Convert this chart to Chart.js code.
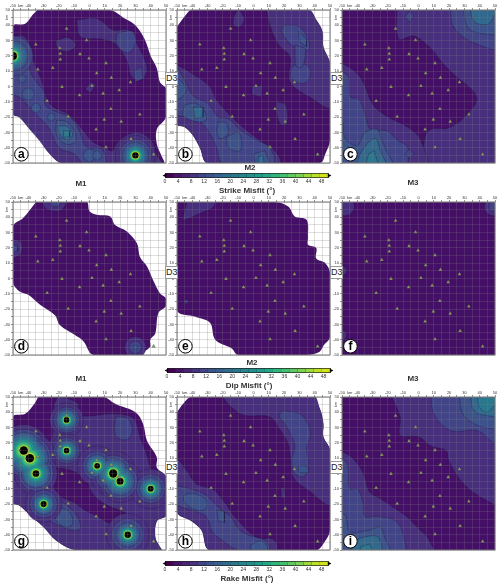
<!DOCTYPE html>
<html>
<head>
<meta charset="utf-8">
<title>Misfit panels</title>
<script src="https://cdn.jsdelivr.net/npm/chart.js@4/dist/chart.umd.min.js"></script>
<style>
  html, body { margin: 0; padding: 0; background: #fff; }
  #page { position: relative; width: 500px; height: 586px; overflow: hidden; font-family: "Liberation Sans", Arial, sans-serif; }
  canvas { position: absolute; }
  .model { position: absolute; font-weight: bold; font-size: 8px; color: #333; transform: translate(-50%, -50%); }
  .d3 { position: absolute; width: 11px; height: 11px; line-height: 11px; box-sizing: content-box; border: 1px solid #999; background: #fff; text-align: center; font-size: 9px; color: #222; z-index: 5; }
</style>
</head>
<body>
<div id="page"></div>
<script>
// Estaciones (km), iguales en todos los paneles
const stationX = [-15, -1.9, -35.1, -19.4, -19.1, -6.2, -19.1, -0.3, 10.8, -24, -33.8, 4.7, 14.3, 26.8, -18, 1.6, 19.4, 8.9, -6.5, -27.7, 14, 32.9, -13.9, 9.7, 20.7, 4.3, 27.2, 10.8, 41.9];
const stationY = [37.8, 30.3, 27.5, 25, 21.4, 21.2, 17.7, 18.3, 15.3, 12.2, 11.1, 8.7, 5.7, 2.8, -0.2, 0.4, -2.4, -4.6, -5.7, -9.4, -14.6, -18.3, -19.7, -21.6, -22.9, -28, -34.3, -39.7, -44.4];

// Colorbar
const colorbarTicksMax = 48;
const colorbarStops = [0, 2.5, 5, 7.5, 10, 12.5, 15, 17.5, 20, 22.5, 25, 27.5, 30, 32.5, 35, 37.5, 40, 42.5, 45, 47.5, 50.3];
const colorbarColors = ['#440154', '#471365', '#482475', '#463480', '#414487', '#3b528b', '#355f8d', '#2f6c8e', '#2a788e', '#25848e', '#21908d', '#1e9c89', '#22a884', '#2fb47c', '#44bf70', '#5ec962', '#7ad151', '#9bd93c', '#bddf26', '#d2e21b'];
const colorbarTitles = ['Strike Misfit (°)', 'Dip Misfit (°)', 'Rake Misfit (°)'];

// Relleno por nivel de contorno, el último es el negro de los máximos
const levelColors = ['#440f66', '#472f7d', '#414487', '#3b528b', '#31688e', '#2a788e', '#21918c', '#35b779', '#6ece58', '#dce319', '#000000'];

// Cuadrado completo, para los paneles M3
const fullSquare = [-50, 50, 50, 50, 50, -50, -50, -50];

// Panel a: strike M1
const aRegion = [-34, 50, 13, 50, 23, 44.5, 30, 40, 36, 31, 40, 20, 44, 12, 46, 3, 50, -1.5, 50, -20, 44, -28, 44, -37.5, 47.4, -46, 48.5, -50, -18, -50, -26, -44, -32.5, -35, -39, -28, -45.6, -20, -50, -18, -50, 39.5, -42, 41, -37, 47];
const aLayers = [
  [1, [-50, 33, -43, 33, -38, 25, -36, 15, -33, 8, -30, 0, -28, -8, -24, -13, -14, -18, -8, -24, -3, -30, 2, -36, 10, -40, 15, -42, 18, -37, 24, -32, 32, -30, 38, -33, 42, -38, 44, -45, 47, -50, -18, -50, -26, -44, -33, -35, -39, -28, -46, -20, -50, -18]],
  [1, [-8.4, 43.4, 4.7, 44.5, 15.6, 37, 25.5, 37, 31, 28, 37.5, 13, 35, 5, 27.7, 6, 24.4, 17, 16.7, 28, 7, 31, -6, 32.5]],
  [1, [-22, 30, -14, 32, -9, 27, -14, 23, -21, 25]],
  [1, [-3, -2, 1, 3, 4, 1, 1, -4]],
  [2, [18, 35, 28, 36, 30, 28, 25, 22, 18, 27]],
  [2, [29, 10, 34, 13, 35, 5, 30, 3]],
  [2, [-50, 30, -44, 28, -40, 18, -39, 10, -34, 2, -30, -3, -29, -12, -23, -16, -13, -20, -7, -28, -4, -37, -1, -40, 8, -41, 10, -50, -4, -50, -10, -44, -20, -40, -26, -28, -33, -20, -39, -14, -44, -8, -50, -4]],
  [3, [-21.6, -22, -15, -23, -9.5, -30, -9.5, -36.5, -16, -37.5, -21.6, -31]],
  [4, [-21, -26, -15, -26, -11, -31, -14, -35, -19, -32]],
  [5, [-17, -29, -13, -29, -13, -33, -17, -33]]
];
const aSpotX = [-50, 30, -40, -35, -25, 0, 5, -44];
const aSpotY = [20, -45, -5, -14, -20, -45, -45, 5];
const aSpotR = [
  [0, 13, 10, 8, 6.3, 5, 4, 3.3, 2.9, 2.6],
  [13, 10.5, 8.5, 6.5, 5.4, 4.3, 3.4, 2.8, 2.4, 2.1],
  [0, 0, 4],
  [0, 0, 3],
  [0, 0, 2.5],
  [0, 0, 4],
  [0, 0, 3],
  [0, 0, 2.5]
];

// Panel b: strike M2
const bRegion = [-50, 39, -44, 47, -40.6, 50, 36, 50, 41, 43.5, 45, 36, 45.6, 26, 49, 18, 50, 15, 50, -35, 47, -44, 43.5, -50, -30, -50, -35, -40, -39.5, -32, -45, -26.5, -50, -24.5];
const bLayers = [
  [1, [-50, 14, -41.7, 9.5, -28.6, 0, -24, -9, -10, -24, 4, -35, 14, -42, 17, -50, -30, -50, -35, -40, -39.5, -32, -45, -26.5, -50, -24.5]],
  [1, [8.5, 50, 10.7, 40, 16, 28, 24, 19, 23, 6, 26, 0, 37, -7, 50, -13.5, 50, 15, 45.6, 26, 45, 36, 41, 43.5, 36, 50]],
  [1, [-13, 45, -10, 50, -6, 44, -9, 39, -13, 40]],
  [1, [15, -10, 21, -12, 22, -24, 18, -25, 15, -17]],
  [1, [-1, 0, 6, 1, 5, -7, -1, -5]],
  [2, [19.5, 40, 30, 39, 36, 30, 36, 24, 30, 25, 25, 27, 20.5, 32, 18.5, 36]],
  [2, [25, 13, 30, 15, 36, 13, 37, 7, 33, 2, 25, 5]],
  [2, [27, 27, 31, 26, 34, 24, 32, 13, 28, 13]],
  [3, [29.3, 36, 34.7, 31, 34.7, 26, 30.3, 29]],
  [2, [-50, 13, -45, 4, -39.5, -6, -30, -11, -23, -20, -16.6, -21, -9, -28, 2, -35, 10.7, -40, 13, -50, -20, -50, -25, -37.5, -33, -24.5, -41.7, -20, -50, -18]],
  [3, [-50, 6, -46, 2, -44, -3, -48, -8, -50, -8]],
  [3, [-45, -12, -38, -11, -32, -16, -31, -22, -37, -23, -46, -19]],
  [3, [-23, -23, -18, -24, -16.6, -31, -22, -34, -24, -29]],
  [3, [-17.7, -33, -10, -30, -8, -35, -9, -42, -16.6, -40]],
  [3, [0, -44, 7.5, -42, 10.7, -50, 1, -50]],
  [4, [-39.5, -13.5, -33, -13.5, -33, -20, -38.5, -21]],
  [4, [3, -46, 6, -45, 7, -50, 3, -50]]
];
const bSpotX = [];
const bSpotY = [];
const bSpotR = [];

// Panel c: strike M3
const cRegion = fullSquare;
const cLayers = [
  [1, [-14, 55, -13, 31, -3, 33, 8, 25, 16, 15, 22, 9, 38, -7, 30, -20, 20, -27, 8, -28, 4, -34, 5, -55, 55, -55, 55, 55]],
  [1, [-55, 15, -50, 15, -40, 8.4, -34.7, -0.3, -30.3, -11.3, -21.6, -19, -7, -26.6, 1.4, -35, 4.7, -55, -55, -55]],
  [2, [21, 55, 22, 41, 29, 32.5, 40, 27, 50, 24, 55, 24, 55, 55]],
  [2, [-55, 9.5, -50, 9.5, -45.6, 6, -44.5, -7, -39, -8, -34.7, -19, -31.4, -28, -20.5, -29, -14, -35, -7, -40, -10.5, -55, -55, -55]],
  [2, [-9, 46, -6, 49, -3, 46, -6, 42]],
  [2, [-9, -44, -6, -41, -3, -44, -6, -47]],
  [3, [29, 55, 31, 41, 35.4, 36, 50, 33.6, 55, 33, 55, 55]],
  [3, [-55, -22, -50, -22, -48, -34, -40, -38.6, -35, -30, -27, -28, -24, -35, -21, -42, -16, -55, -55, -55]],
  [4, [34, 55, 35, 44.5, 38.6, 41, 46, 41, 50, 47, 55, 55]],
  [4, [-41, -55, -39, -46, -33.6, -37.5, -28, -34, -25, -42, -20.5, -55]],
  [5, [-36, -55, -32.5, -44, -29, -42, -25, -55]]
];
const cSpotX = [];
const cSpotY = [];
const cSpotR = [];

// Panel d: dip M1
const dRegion = [-35, 50, -2, 50, 0, 44, 4.7, 41.7, 13.5, 40.6, 16.7, 35, 24.4, 30.8, 31, 23, 33, 14, 37.5, 8, 42, -2, 46, -9.6, 50, -13, 50, -18, 45, -22.7, 43, -36, 39.7, -40, 39.7, -44.6, 35, -48, 31, -50, 2.5, -50, -4, -41, -9.5, -37, -19.4, -30.4, -22.6, -24, -32.5, -17, -40, -10.7, -45.6, -8.5, -50, -2.4, -50, 34, -43.4, 39.5];
const dLayers = [
  [1, [-31, 52, -29, 46, -23, 44, -18, 45, -15, 52]],
  [2, [-27, 52, -24, 47, -20, 47, -18, 52]],
  [1, [-52, 26, -45, 24, -44, 19, -46, 15, -52, 13.5]],
  [2, [-52, 23, -47, 21, -47, 18, -52, 17]]
];
const dSpotX = [30];
const dSpotY = [-45];
const dSpotR = [[7, 4, 1.5]];

// Panel e: dip M2
const eRegion = [-50, 50, 14, 50, 22.7, 47, 27, 40.6, 34.7, 38.4, 35.7, 27, 35.7, 22, 41, 20, 41, 13, 47, 10, 50, 3.5, 50, -38, 46, -43.5, 43, -48, 34.7, -50, -10, -50, -14.4, -45.6, -25, -40, -28.4, -29, -38, -25, -50, -20.6];
const eLayers = [
  [1, [-43, 52, -46, 38.5, -43, 39, -34, 43, -26.5, 46.5, -25.4, 52]]
];
const eSpotX = [-44];
const eSpotY = [-15];
const eSpotR = [[1.5]];

// Panel f: dip M3
const fRegion = fullSquare;
const fLayers = [];
const fSpotX = [-48, 49, -50, -50];
const fSpotY = [47, 47, 5, -37];
const fSpotR = [[6], [6, 3], [3], [3]];

// Panel g: rake M1
const gRegion = [-33.6, 50, 9, 50, 16.7, 45.6, 30, 40, 35, 32.5, 37.5, 21.6, 44, 10.7, 44, 4, 50, -2.4, 50, -27.5, 44, -31, 43, -42, 46, -48, 47, -50, -8.4, -50, -21.5, -44, -30, -35, -40, -26, -45.6, -21, -50, -19, -50, 37, -42, 39, -36, 45.6];
const gLayers = [
  [1, [-50, 28, -42, 28, -33, 22, -25, 22, -24, 40, -20, 50, -8, 46, -6, 38, 15.6, 39, 28.8, 36, 33, 24, 37.5, 12, 42, -1, 50, -5, 50, -27.5, 44, -31, 43, -42, 46, -48, 47, -50, -8.4, -50, -21.5, -44, -30, -35, -40, -26, -45.6, -21, -50, -19]],
  [0, [-22, 4, -12, 2, -3, -3, 2, -13, 10, -20, 22, -25, 28, -30, 15, -33, 5, -28, -3, -24, -10, -19, -20, -14, -24, -5]],
  [2, [-37, -13, -28, -12, -16, -20, -8, -28, -6, -36, -12, -37, -22, -33, -32, -28, -38, -22]],
  [3, [-20, -22, -13, -25, -11, -33, -16, -35, -22, -30]],
  [2, [17, 37, 25, 36, 28, 28, 24, 22, 17, 25]]
];
const gSpotX = [-15, -15, -43, -39, -35, -30, 5, 15.5, 20, 40, 25];
const gSpotY = [35, 15, 15, 10, 0, -20, 5, 0, -5, -10, -40];
const gSpotR = [
  [11, 8.5, 7, 5.5, 4.3, 3.4, 2.8, 2.4, 2.1, 1.9],
  [11, 8.5, 7, 5.5, 4.3, 3.4, 2.8, 2.4, 2.1, 1.9],
  [17, 14, 12, 10, 8.5, 7, 5.4, 4, 3.2, 2.8],
  [17, 14, 12, 10, 8.5, 7, 5.4, 4, 3.2, 2.8],
  [14, 11.5, 9.5, 8, 6.5, 5, 3.8, 3, 2.5, 2.2],
  [12, 9, 7, 5.6, 4.5, 3.6, 3, 2.5, 2.2, 2],
  [13, 9.5, 7.5, 6, 4.8, 3.8, 3, 2.5, 2.2, 1.9],
  [15, 12, 10, 8, 6.6, 5.2, 4.2, 3.4, 3, 2.7],
  [14, 11.5, 9.5, 7.5, 6, 4.8, 3.8, 3, 2.6, 2.3],
  [13, 9.5, 7.5, 6, 4.8, 3.8, 3, 2.5, 2.2, 2],
  [14, 10.5, 8, 6.2, 5, 4, 3.2, 2.6, 2.3, 2.1]
];

// Panel h: rake M2
const hRegion = [-50, 40, -46, 45.6, -40.6, 50, 38, 50, 43.4, 42, 45.6, 32.5, 45.6, 24, 49, 18, 50, 15, 50, -37, 45.6, -46, 41, -50, -28.6, -50, -34, -37, -40.6, -31, -50, -25];
const hLayers = [
  [1, [-22, 52, -14, 43, -6, 38, 10.7, 37, 17, 29, 22.7, 19.4, 24, 10.7, 26, -2.4, 36, -11, 50, -20, 50, 15, 45.6, 24, 45.6, 32.5, 43.4, 42, 38, 52]],
  [1, [-50, 10.7, -43, 1, -37.3, -6.8, -26.4, -10.4, -18.8, -19, -12, -28.6, 2, -41.7, 13, -43, 15, -50, -28.6, -50, -34, -37, -40.6, -31, -50, -25]],
  [1, [18, -9, 20, -9, 21, -16, 18, -16]],
  [2, [18.3, 41, 30.3, 39, 36, 31.4, 37, 24, 34.7, 17, 36, 5, 33, -2, 27, 0, 25, 8.5, 27, 18.4, 20.5, 32.5, 17, 37]],
  [2, [-50, -8, -38, -11, -30, -15, -22, -23, -15, -28, -10, -36, -4, -40, 8, -44, 10, -50, -10, -50, -20, -44, -27, -38, -31, -28, -40, -24, -50, -20]],
  [3, [29, 5, 35, 5, 36, 0.5, 30, 0.5]],
  [3, [-38, -13, -31, -17, -31, -23, -37, -24, -45, -19, -45, -14]],
  [3, [-24, -24, -19, -25, -19, -32, -23, -31]],
  [3, [-2, -47, 4, -44, 8, -46, 9, -50, -1, -50]]
];
const hSpotX = [];
const hSpotY = [];
const hSpotR = [];

// Panel i: rake M3
const iRegion = fullSquare;
const iLayers = [
  [1, [-20, 55, -12, 37, -12, 25, 0, 24, 8, 18, 18, 15, 20, 8, 28, -5, 40, -15, 55, -20, 55, 55]],
  [1, [-55, 14, -50, 14, -43, 10, -36, 0, -32, -12, -24, -17, -18, -21, -8, -28, 0, -36, 6, -42, 10, -55, -55, -55]],
  [2, [8, 55, 10, 39, 21, 28, 38.6, 28, 50, 19.4, 55, 19, 55, 55]],
  [2, [-55, 10, -50, 10, -46, 5, -45, -10, -40, -10, -36, -20, -35, -28, -27, -28, -15, -31, -10, -40, -10, -55, -55, -55]],
  [3, [26.5, 55, 29, 39, 38.6, 31.4, 50, 29, 55, 29, 55, 55]],
  [3, [-55, -27, -48, -27, -45, -38, -32, -37, -25, -35, -22, -42, -18, -55, -55, -55]],
  [4, [34, 55, 36.4, 41, 50, 37, 55, 37, 55, 55]],
  [4, [-44, -55, -42, -45, -33, -41, -26, -42, -25, -55]],
  [5, [38.6, 55, 39.7, 43.5, 45, 40, 50, 44.5, 55, 45, 55, 55]],
  [5, [-38, -55, -38, -48, -32, -46, -28, -55]]
];
const iSpotX = [];
const iSpotY = [];
const iSpotR = [];

const panelLetters = ['a', 'b', 'c', 'd', 'e', 'f', 'g', 'h', 'i'];
const panelRegions = [aRegion, bRegion, cRegion, dRegion, eRegion, fRegion, gRegion, hRegion, iRegion];
const panelLayers = [aLayers, bLayers, cLayers, dLayers, eLayers, fLayers, gLayers, hLayers, iLayers];
const panelSpotX = [aSpotX, bSpotX, cSpotX, dSpotX, eSpotX, fSpotX, gSpotX, hSpotX, iSpotX];
const panelSpotY = [aSpotY, bSpotY, cSpotY, dSpotY, eSpotY, fSpotY, gSpotY, hSpotY, iSpotY];
const panelSpotR = [aSpotR, bSpotR, cSpotR, dSpotR, eSpotR, fSpotR, gSpotR, hSpotR, iSpotR];

// Layout de la figura (px)
const plotLeft = [13, 177, 342];
const plotTop = [10, 202, 397];
const plotSize = 153;
const pxPerKm = plotSize / 100;
const marginLeft = 13;
const marginTop = 10;
const page = document.getElementById('page');

function toPoints(flat) {
    const pts = [];
    for (let i = 0; i < flat.length; i += 2) {
        pts.push({ x: flat[i], y: flat[i + 1] });
    }
    pts.push(pts[0]); // cerrar el polígono
    return pts;
}

function polygonDataset(flat, level, outlined) {
    return {
        data: toPoints(flat),
        showLine: true,
        fill: 'shape',
        tension: flat.length <= 8 ? 0 : 0.35,
        backgroundColor: levelColors[level],
        borderColor: outlined ? 'rgba(20,10,40,0.55)' : 'rgba(0,0,0,0)',
        borderWidth: outlined ? 0.5 : 0,
        pointRadius: 0
    };
}

function buildDatasets(idx) {
    const out = [polygonDataset(panelRegions[idx], 0, false)];
    panelLayers[idx].forEach(layer => out.push(polygonDataset(layer[1], layer[0], true)));

    // Anillos de los máximos, de nivel bajo a alto
    const radii = panelSpotR[idx];
    for (let lvl = 0; lvl < 10; lvl++) {
        const rings = [];
        radii.forEach((row, s) => {
            if (row[lvl]) {
                rings.push({ x: panelSpotX[idx][s], y: panelSpotY[idx][s], r: row[lvl] * pxPerKm });
            }
        });
        if (rings.length) {
            out.push({
                type: 'bubble',
                data: rings,
                clip: 0,
                backgroundColor: levelColors[lvl + 1],
                borderColor: 'rgba(20,10,40,0.45)',
                borderWidth: lvl < 3 ? 0.5 : 0
            });
        }
    }

    out.push({
        data: stationX.map((x, i) => ({ x: x, y: stationY[i] })),
        showLine: false,
        pointStyle: 'triangle',
        pointRadius: 2.2,
        pointBackgroundColor: '#8f9a68',
        pointBorderColor: 'rgba(40,40,40,0.6)',
        pointBorderWidth: 0.4
    });

    // order menor = se dibuja encima
    out.forEach((ds, i) => { ds.order = out.length - i; });
    return out;
}

function panelDecor(letter) {
    return {
        id: 'panelDecor',
        afterDraw(chart) {
            const { ctx, chartArea: area, scales } = chart;
            ctx.save();
            ctx.strokeStyle = '#777';
            ctx.lineWidth = 1;
            ctx.strokeRect(area.left, area.top, area.width, area.height);

            // km vertical del eje y
            ctx.translate(area.left - 6, scales.y.getPixelForValue(45));
            ctx.rotate(-Math.PI / 2);
            ctx.fillStyle = '#333';
            ctx.font = '4px "Liberation Sans"';
            ctx.textAlign = 'center';
            ctx.textBaseline = 'middle';
            ctx.fillText('km', 0, 0);
            ctx.restore();

            // Letra del panel
            const cx = scales.x.getPixelForValue(-44.5);
            const cy = scales.y.getPixelForValue(-44.3);
            ctx.save();
            ctx.beginPath();
            ctx.arc(cx, cy, 6.8, 0, Math.PI * 2);
            ctx.fillStyle = '#fff';
            ctx.fill();
            ctx.lineWidth = 1;
            ctx.strokeStyle = '#000';
            ctx.stroke();
            ctx.fillStyle = '#000';
            ctx.font = 'bold 12px "Liberation Sans"';
            ctx.textAlign = 'center';
            ctx.textBaseline = 'middle';
            ctx.fillText(letter, cx, cy);
            ctx.restore();
        }
    };
}

function drawPanel(idx) {
    const col = idx % 3;
    const row = Math.floor(idx / 3);
    const canvas = document.createElement('canvas');
    const w = marginLeft + plotSize + 5;
    const h = marginTop + plotSize + 4;
    canvas.width = w;
    canvas.height = h;
    canvas.style.left = (plotLeft[col] - marginLeft) + 'px';
    canvas.style.top = (plotTop[row] - marginTop) + 'px';
    page.appendChild(canvas);

    const gridOpts = { color: 'rgba(125,125,125,0.36)', lineWidth: 0.7, z: 1, tickLength: 2, tickColor: '#666' };
    const tickFont = { family: '"Liberation Sans"', size: 4 };

    new Chart(canvas, {
        type: 'scatter',
        data: { datasets: buildDatasets(idx) },
        options: {
            responsive: false,
            animation: false,
            events: [],
            layout: { autoPadding: false, padding: { left: 0, top: 0, right: 5, bottom: 4 } },
            plugins: { legend: { display: false }, tooltip: { enabled: false } },
            scales: {
                x: {
                    position: 'top',
                    min: -50,
                    max: 50,
                    grid: gridOpts,
                    border: { display: false },
                    afterFit(s) { s.height = marginTop; s.paddingLeft = 0; s.paddingRight = 0; },
                    ticks: {
                        stepSize: 5,
                        autoSkip: false,
                        maxRotation: 0,
                        padding: 0,
                        color: '#333',
                        font: tickFont,
                        callback: v => (v === -45 ? 'km' : (v % 10 === 0 ? v : ''))
                    }
                },
                y: {
                    min: -50,
                    max: 50,
                    grid: gridOpts,
                    border: { display: false },
                    afterFit(s) { s.width = marginLeft; s.paddingTop = 0; s.paddingBottom = 0; },
                    ticks: {
                        stepSize: 5,
                        autoSkip: false,
                        padding: 1,
                        color: '#333',
                        font: tickFont,
                        callback: v => (v % 10 === 0 ? v : '')
                    }
                }
            }
        },
        plugins: [panelDecor(panelLetters[idx])]
    });
}

function drawColorbar(title, left, top) {
    const canvas = document.createElement('canvas');
    canvas.width = 192;
    canvas.height = 24;
    canvas.style.left = left + 'px';
    canvas.style.top = top + 'px';
    page.appendChild(canvas);

    const datasets = colorbarColors.map((c, i) => ({
        data: [{ x: colorbarStops[i], y: 0.5 }, { x: colorbarStops[i + 1], y: 0.5 }],
        showLine: true,
        borderColor: c,
        borderWidth: 3.6,
        pointRadius: 0,
        borderCapStyle: 'butt'
    }));
    datasets.push({
        data: [{ x: colorbarStops[0], y: 0.5 }, { x: colorbarStops[colorbarStops.length - 1], y: 0.5 }],
        showLine: true,
        borderColor: '#222',
        borderWidth: 5,
        pointRadius: 0,
        borderCapStyle: 'butt'
    });
    datasets.unshift({
        data: [{ x: colorbarStops[0], y: 0.5 }],
        showLine: false,
        pointStyle: 'triangle',
        rotation: -90,
        pointRadius: 2.4,
        pointBackgroundColor: '#000',
        pointBorderWidth: 0,
        clip: false
    }, {
        data: [{ x: colorbarStops[colorbarStops.length - 1], y: 0.5 }],
        showLine: false,
        pointStyle: 'triangle',
        rotation: 90,
        pointRadius: 2.4,
        pointBackgroundColor: '#000',
        pointBorderWidth: 0,
        clip: false
    });

    new Chart(canvas, {
        type: 'scatter',
        data: { datasets: datasets },
        options: {
            responsive: false,
            animation: false,
            events: [],
            layout: { autoPadding: false, padding: { left: 9, top: 1, right: 19, bottom: 0 } },
            plugins: { legend: { display: false }, tooltip: { enabled: false } },
            scales: {
                x: {
                    min: 0,
                    max: 50.3,
                    grid: { display: false, drawTicks: false },
                    border: { display: false },
                    afterFit(s) { s.height = 18; s.paddingLeft = 0; s.paddingRight = 0; },
                    title: { display: true, text: title, color: '#333', padding: 0, font: { family: '"Liberation Sans"', size: 8, weight: 'bold' } },
                    ticks: {
                        stepSize: 4,
                        includeBounds: false,
                        autoSkip: false,
                        maxRotation: 0,
                        padding: 1,
                        color: '#333',
                        font: { family: '"Liberation Sans"', size: 5 },
                        callback: v => (v <= colorbarTicksMax ? v : '')
                    }
                },
                y: { display: false, min: 0, max: 1, afterFit(s) { s.width = 0; } }
            }
        }
    });
}

function addLabel(text, x, y) {
    const el = document.createElement('div');
    el.className = 'model';
    el.textContent = text;
    el.style.left = x + 'px';
    el.style.top = y + 'px';
    page.appendChild(el);
}

function addD3(x, y) {
    const el = document.createElement('div');
    el.className = 'd3';
    el.textContent = 'D3';
    el.style.left = x + 'px';
    el.style.top = y + 'px';
    page.appendChild(el);
}

panelLetters.forEach((_, i) => drawPanel(i));

drawColorbar(colorbarTitles[0], 156, 172);
drawColorbar(colorbarTitles[1], 158, 367);
drawColorbar(colorbarTitles[2], 156, 560);

addLabel('M1', 81, 183);
addLabel('M2', 250, 167);
addLabel('M3', 413, 182);
addLabel('M1', 81, 378);
addLabel('M2', 252, 362);
addLabel('M3', 413, 378);

[72, 266, 461].forEach(y => { addD3(165, y); addD3(330, y); });
</script>
</body>
</html>
